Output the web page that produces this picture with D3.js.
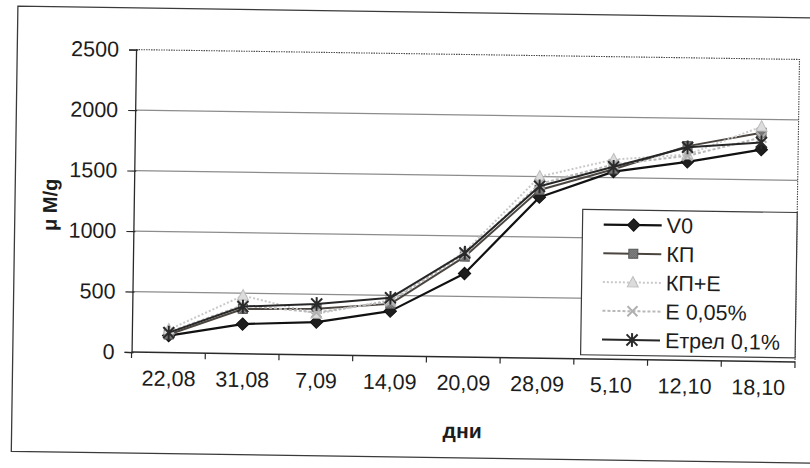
<!DOCTYPE html>
<html>
<head>
<meta charset="utf-8">
<script src="https://cdn.jsdelivr.net/npm/d3@7"></script>
<style>
  html, body { margin: 0; padding: 0; background: #ffffff; }
  svg { display: block; }
  text { font-family: "Liberation Sans", Arial, sans-serif; fill: #1c1c1c; }
</style>
</head>
<body>
<svg id="chart" width="810" height="468"></svg>
<script>
// Dates of measurement (day,month)
const categories = ["22,08", "31,08", "7,09", "14,09", "20,09", "28,09", "5,10", "12,10", "18,10"];

// Content, µM/g, per treatment
const v0    = [140, 245, 270, 370, 690, 1330, 1550, 1640, 1750];
const kp    = [150, 370, 380, 430, 830, 1390, 1570, 1770, 1890];
const kpE   = [190, 480, 340, 460, 870, 1500, 1650, 1700, 1940];
const e005  = [170, 400, 350, 450, 850, 1440, 1610, 1690, 1850];
const etrel = [165, 390, 420, 480, 860, 1420, 1590, 1760, 1810];

const seriesNames = ["V0", "КП", "КП+Е", "Е 0,05%", "Етрел 0,1%"];
const yTicks = [0, 500, 1000, 1500, 2000, 2500];
const xTitle = "дни";
const yTitle = "μ M/g";

const seriesData = [v0, kp, kpE, e005, etrel];

// Visual style of each series
const styles = [
  { line: "#111111", width: 2.2, dash: null,  marker: "diamond" },
  { line: "#4b4540", width: 2.0, dash: null,  marker: "square" },
  { line: "#c9c9c9", width: 2.0, dash: "2,2", marker: "triangle" },
  { line: "#b8b8b8", width: 2.0, dash: "3,2", marker: "cross" },
  { line: "#262626", width: 2.0, dash: null,  marker: "asterisk" }
];

const FONT = '"Liberation Sans", Arial, sans-serif';
const LABEL_SIZE = 21.5;

const svg = d3.select("#chart");
svg.append("rect").attr("width", 810).attr("height", 468).attr("fill", "#ffffff");

const defs = svg.append("defs");
const pat = defs.append("pattern").attr("id", "checker")
  .attr("width", 2).attr("height", 2).attr("patternUnits", "userSpaceOnUse");
pat.append("rect").attr("width", 2).attr("height", 2).attr("fill", "#9a9a9a");
pat.append("rect").attr("width", 1).attr("height", 1).attr("fill", "#555555");
pat.append("rect").attr("x", 1).attr("y", 1).attr("width", 1).attr("height", 1).attr("fill", "#555555");

// The whole figure sits slightly tilted on the page
const g = svg.append("g").attr("transform", "rotate(0.85, 465, 205)");

// Outer frame of the figure
g.append("path")
  .attr("d", "M830,12.7 L15,12.7 L15,458 L830,458")
  .attr("fill", "none").attr("stroke", "#3a3a3a").attr("stroke-width", 1.3);

const plot = { left: 133.8, right: 797.3, top: 54.5, bottom: 357 };

const x = d3.scalePoint().domain(categories).range([plot.left, plot.right]).padding(0.5);
const band = (plot.right - plot.left) / categories.length;
const y = d3.scaleLinear().domain([0, 2500]).range([plot.bottom, plot.top]);

// Horizontal gridlines
g.append("g").selectAll("line")
  .data(yTicks.filter(d => d > 0 && d < 2500))
  .join("line")
  .attr("x1", plot.left).attr("x2", plot.right)
  .attr("y1", d => y(d)).attr("y2", d => y(d))
  .attr("stroke", "#8c8c8c").attr("stroke-width", 1.2);

// Plot frame: dotted top and right edges
g.append("path")
  .attr("d", `M${plot.left},${plot.top} L${plot.right},${plot.top} L${plot.right},${plot.bottom}`)
  .attr("fill", "none").attr("stroke", "#4a4a4a").attr("stroke-width", 1.1)
  .attr("stroke-dasharray", "1.5,1");

// Y axis
const yAxis = d3.axisLeft(y).tickValues(yTicks).tickFormat(d3.format("d")).tickSize(7).tickPadding(10);
const yg = g.append("g").attr("transform", `translate(${plot.left},0)`).call(yAxis);
yg.select(".domain").attr("stroke", "#2a2a2a").attr("stroke-width", 1.3);
yg.selectAll(".tick line").attr("stroke", "#2a2a2a").attr("stroke-width", 1.2)
  .attr("x2", -7).attr("x1", 2);
yg.selectAll("text").attr("font-size", LABEL_SIZE).attr("fill", "#1c1c1c")
  .style("font-family", FONT);

// X axis: ticks between categories
const xAxis = d3.axisBottom(x).tickSize(0).tickPadding(18);
const xg = g.append("g").attr("transform", `translate(0,${plot.bottom})`).call(xAxis);
xg.select(".domain").attr("d", `M${plot.left},0H${plot.right}`)
  .attr("stroke", "#2a2a2a").attr("stroke-width", 1.5);
xg.selectAll("text").attr("font-size", LABEL_SIZE).attr("fill", "#1c1c1c")
  .style("font-family", FONT);
xg.selectAll(".boundary")
  .data(d3.range(categories.length + 1))
  .join("line")
  .attr("class", "boundary")
  .attr("x1", i => plot.left + i * band).attr("x2", i => plot.left + i * band)
  .attr("y1", 0).attr("y2", 6)
  .attr("stroke", "#2a2a2a").attr("stroke-width", 1.2);

// Axis titles
g.append("text").attr("x", (plot.left + plot.right) / 2).attr("y", 438)
  .attr("text-anchor", "middle").attr("font-size", 21).attr("font-weight", "bold")
  .text(xTitle);
g.append("text").attr("transform", "translate(57,211) rotate(-90)")
  .attr("text-anchor", "middle").attr("font-size", 20).attr("font-weight", "bold")
  .text(yTitle);

// Marker drawing
function drawMarker(sel, type, cx, cy, scale = 1) {
  const m = sel.append("g").attr("transform", `translate(${cx},${cy})`);
  if (type === "diamond") {
    const r = 6.2 * scale;
    m.append("path").attr("d", `M0,${-r}L${r},0L0,${r}L${-r},0Z`)
      .attr("fill", "#1e1e1e").attr("stroke", "#111");
  } else if (type === "square") {
    const r = 4.5 * scale;
    m.append("rect").attr("x", -r).attr("y", -r).attr("width", 2 * r).attr("height", 2 * r)
      .attr("fill", "url(#checker)").attr("stroke", "#555").attr("stroke-width", 1);
  } else if (type === "triangle") {
    const r = 5.5 * scale;
    m.append("path").attr("d", `M0,${-r * 1.1}L${r},${r * 0.8}L${-r},${r * 0.8}Z`)
      .attr("fill", "#dcdcdc").attr("stroke", "#bdbdbd").attr("stroke-width", 1);
  } else if (type === "cross") {
    const r = 5 * scale;
    m.append("path").attr("d", `M${-r},${-r}L${r},${r}M${r},${-r}L${-r},${r}`)
      .attr("stroke", "#b0b0b0").attr("stroke-width", 2).attr("fill", "none");
  } else if (type === "asterisk") {
    const r = 5.5 * scale;
    m.append("path").attr("d", `M${-r},${-r}L${r},${r}M${r},${-r}L${-r},${r}M0,${-r * 1.25}L0,${r * 1.25}`)
      .attr("stroke", "#2a2a2a").attr("stroke-width", 2).attr("fill", "none");
  }
}

// Series lines and markers
const lineGen = d3.line().x((d, i) => x(categories[i])).y(d => y(d));
seriesData.forEach((vals, si) => {
  const st = styles[si];
  const sg = g.append("g");
  sg.append("path").datum(vals).attr("d", lineGen)
    .attr("fill", "none").attr("stroke", st.line).attr("stroke-width", st.width)
    .attr("stroke-dasharray", st.dash).attr("stroke-linejoin", "round");
  vals.forEach((v, i) => drawMarker(sg, st.marker, x(categories[i]), y(v)));
});

// Legend
const leg = { left: 582.8, top: 207.6, right: plot.right, bottom: 353 };
g.append("rect")
  .attr("x", leg.left).attr("y", leg.top)
  .attr("width", leg.right - leg.left).attr("height", leg.bottom - leg.top)
  .attr("fill", "#ffffff").attr("stroke", "#3a3a3a").attr("stroke-width", 1.2);
const legY = d3.scalePoint().domain(seriesNames).range([222.5, 337.5]);
seriesNames.forEach((name, si) => {
  const st = styles[si];
  const ly = legY(name);
  g.append("line").attr("x1", 604).attr("x2", 662).attr("y1", ly).attr("y2", ly)
    .attr("stroke", st.line).attr("stroke-width", st.width).attr("stroke-dasharray", st.dash);
  drawMarker(g, st.marker, 634, ly);
  g.append("text").attr("x", 667).attr("y", ly + 7.5).attr("font-size", LABEL_SIZE).text(name);
});
</script>
</body>
</html>
